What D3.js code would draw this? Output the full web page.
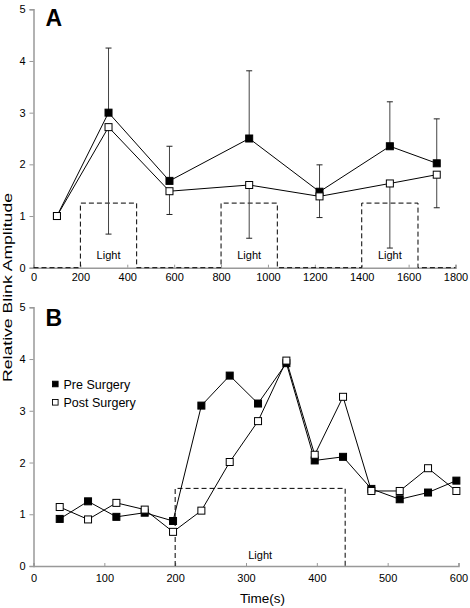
<!DOCTYPE html>
<html><head><meta charset="utf-8">
<script src="https://cdn.jsdelivr.net/npm/d3@7"></script>
<style>body{margin:0;background:#fff}svg{display:block}text{font-family:"Liberation Sans",Arial,sans-serif}</style>
</head><body>
<svg id="c" width="470" height="608"></svg>
<script>
// ---- Panel A data ----
const aTimes = [100, 320, 580, 920, 1220, 1520, 1720];
const aPre = [1.0, 3.0, 1.68, 2.5, 1.47, 2.35, 2.02];
const aPost = [1.0, 2.72, 1.48, 1.6, 1.38, 1.63, 1.8];
const aPreErr = [0, 1.25, 0.67, 1.31, 0.52, 0.86, 0.86];
const aPostErr = [0, 2.07, 0.45, 1.03, 0.41, 1.25, 0.64];
const aLightT = [0, 200, 200, 440, 440, 800, 800, 1040, 1040, 1400, 1400, 1640, 1640, 1800];
const aLightV = [0, 0, 1.25, 1.25, 0, 0, 1.25, 1.25, 0, 0, 1.25, 1.25, 0, 0];
const aLightLabelT = [320, 920, 1520];
const aXTicks = [0, 200, 400, 600, 800, 1000, 1200, 1400, 1600, 1800];
// ---- Panel B data ----
const bTimes = [37, 77, 117, 157, 197, 237, 277, 317, 357, 397, 437, 477, 517, 557, 597];
const bPre = [0.91, 1.25, 0.95, 1.03, 0.87, 3.10, 3.68, 3.14, 3.92, 2.04, 2.11, 1.49, 1.29, 1.42, 1.65];
const bPost = [1.14, 0.90, 1.22, 1.09, 0.66, 1.07, 2.01, 2.80, 3.97, 2.15, 3.27, 1.45, 1.45, 1.89, 1.45];
const bLightT = [200, 200, 440, 440];
const bLightV = [0, 1.5, 1.5, 0];
const bLightLabelT = [320];
const bXTicks = [0, 100, 200, 300, 400, 500, 600];
const yTicks = [0, 1, 2, 3, 4, 5];
const legendLabels = ["Pre Surgery", "Post Surgery"];

const svg = d3.select("#c");
const AX = "#999";

function panel(o) {
  const x = d3.scaleLinear().domain(o.xDomain).range([33.5, o.xRight]);
  const y = d3.scaleLinear().domain([0, 5]).range([o.y0, o.y5]);
  const g = svg.append("g");
  // axes
  const ya = g.append("g").attr("transform", `translate(${x(0)},0)`)
    .call(d3.axisLeft(y).tickValues(yTicks).tickSize(4).tickPadding(4).tickFormat(d3.format("d")));
  const xa = g.append("g").attr("transform", `translate(0,${y(0)})`)
    .call(d3.axisBottom(x).tickValues(o.xTicks).tickSize(-3).tickPadding(o.xPad).tickFormat(d3.format("d")));
  [ya, xa].forEach(a => {
    a.select(".domain").attr("stroke", AX).attr("stroke-width", 1.5);
    a.selectAll(".tick line").attr("stroke", AX).attr("stroke-width", 1);
    a.selectAll(".tick text").attr("fill", "#000").style("font-size", "11px")
      .style("font-family", '"Liberation Sans",Arial,sans-serif');
  });
  xa.selectAll(".tick text").attr("dy", "0.71em");
  // light signal
  const lt = o.lightT.map((t, i) => [t, o.lightV[i]]);
  g.append("path").attr("d", d3.line().x(d => x(d[0])).y(d => y(d[1]))(lt))
    .attr("fill", "none").attr("stroke", "#000").attr("stroke-width", 1).attr("stroke-dasharray", "5,3");
  g.selectAll(".ll").data(o.lightLabelT).enter().append("text")
    .attr("x", d => x(d)).attr("y", o.lightLabelY).attr("text-anchor", "middle")
    .style("font-size", "11px").text("Light");
  // error bars
  if (o.preErr) {
    const eb = (vals, errs, sign) => {
      o.t.forEach((t, i) => {
        if (!errs[i]) return;
        const y1 = y(vals[i]), y2 = y(vals[i] + sign * errs[i]);
        g.append("line").attr("x1", x(t)).attr("x2", x(t)).attr("y1", y1).attr("y2", y2)
          .attr("stroke", "#444").attr("stroke-width", 1);
        g.append("line").attr("x1", x(t) - 3).attr("x2", x(t) + 3).attr("y1", y2).attr("y2", y2)
          .attr("stroke", "#222").attr("stroke-width", 1);
      });
    };
    eb(o.pre, o.preErr, 1);
    eb(o.post, o.postErr, -1);
  }
  // lines
  const ln = d3.line().x(d => x(d[0])).y(d => y(d[1]));
  [o.pre, o.post].forEach(s => {
    g.append("path").attr("d", ln(o.t.map((t, i) => [t, s[i]])))
      .attr("fill", "none").attr("stroke", "#000").attr("stroke-width", 1);
  });
  // markers (post drawn on top)
  const m = 7;
  [[o.pre, "#000"], [o.post, "#fff"]].forEach(([s, f]) => {
    g.selectAll(null).data(o.t.map((t, i) => [t, s[i]])).enter().append("rect")
      .attr("x", d => x(d[0]) - m / 2).attr("y", d => y(d[1]) - m / 2)
      .attr("width", m).attr("height", m).attr("fill", f).attr("stroke", "#000").attr("stroke-width", 1);
  });
  // panel label
  g.append("text").attr("x", 45.5).attr("y", o.labelY).style("font-size", "23px").style("font-weight", "bold").text(o.label);
  return { x, y };
}

panel({ xDomain: [0, 1800], xRight: 455.5, y0: 267.7, y5: 9.3, xTicks: aXTicks, xPad: 6,
  lightT: aLightT, lightV: aLightV, lightLabelT: aLightLabelT, lightLabelY: 259,
  t: aTimes, pre: aPre, post: aPost, preErr: aPreErr, postErr: aPostErr, label: "A", labelY: 25.7 });

panel({ xDomain: [0, 600], xRight: 458.5, y0: 566, y5: 307.3, xTicks: bXTicks, xPad: 8,
  lightT: bLightT, lightV: bLightV, lightLabelT: bLightLabelT, lightLabelY: 559,
  t: bTimes, pre: bPre, post: bPost, label: "B", labelY: 325.5 });

// legend
const lg = svg.append("g");
legendLabels.forEach((l, i) => {
  const cy = 384 + i * 18.3;
  lg.append("rect").attr("x", 52.5).attr("y", cy - 2.8).attr("width", 5.6).attr("height", 5.6)
    .attr("fill", i === 0 ? "#000" : "#fff").attr("stroke", "#000").attr("stroke-width", 0.9);
  lg.append("text").attr("x", 63.5).attr("y", cy + 4.5).style("font-size", "12.5px").text(l);
});

// axis titles
svg.append("text").attr("transform", "translate(11.5,287.5) rotate(-90)").attr("text-anchor", "middle")
  .style("font-size", "13px").attr("textLength", 189).attr("lengthAdjust", "spacingAndGlyphs")
  .text("Relative Blink Amplitude");
svg.append("text").attr("x", 262.5).attr("y", 603).attr("text-anchor", "middle").style("font-size", "13.5px").text("Time(s)");
</script>
</body></html>
